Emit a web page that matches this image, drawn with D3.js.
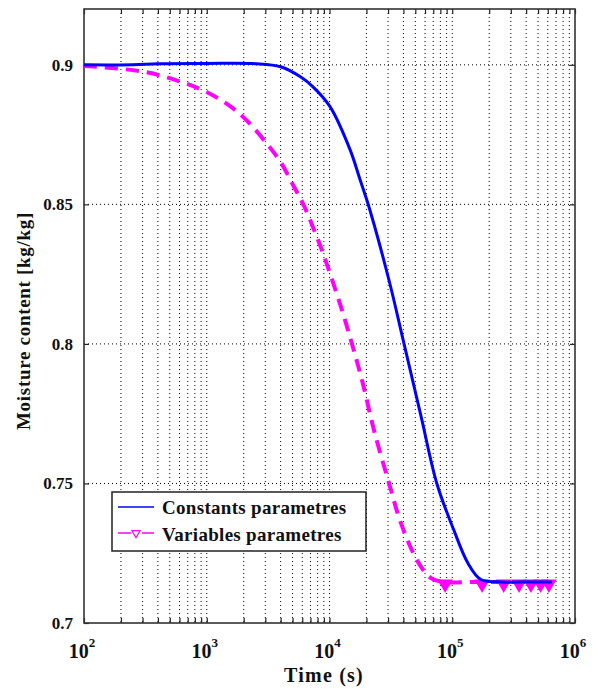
<!DOCTYPE html>
<html lang="en">
<head>
    <meta charset="UTF-8">
    <title>Moisture content vs time</title>
    <script src="https://cdn.jsdelivr.net/npm/d3@7/dist/d3.min.js"></script>
    <style>
        body { margin: 0; background: #fff; }
        svg text { font-family: "Liberation Serif", "Times New Roman", serif; font-weight: bold; fill: #111; }
        .grid line { stroke: #000; stroke-width: 1; stroke-dasharray: 1,3; }
    </style>
</head>
<body>
<script>
    // data
    const constTime = [100, 250, 400, 1000, 2500, 4000, 5800, 7340, 10100, 14700, 17700, 20600,
        30500, 40500, 55600, 75100, 103000, 134000, 171000, 250000, 400000, 650000];
    const constMoisture = [0.9, 0.9, 0.9004, 0.9005, 0.9004, 0.8993, 0.8957, 0.8921, 0.8850, 0.8696,
        0.8590, 0.8502, 0.8229, 0.8000, 0.7742, 0.7498, 0.7333, 0.7215, 0.7156, 0.7147, 0.7147, 0.7147];

    const varTime = [100, 308, 617, 1025, 1580, 2170, 3160, 4030, 5140, 6200, 8060, 9020, 12400,
        15500, 18700, 23000, 30500, 38200, 52600, 67100, 85700, 150000, 300000, 650000];
    const varMoisture = [0.8996, 0.8975, 0.8939, 0.8900, 0.8849, 0.8796, 0.8712, 0.8649, 0.8563,
        0.8495, 0.8373, 0.8315, 0.8133, 0.7989, 0.7858, 0.7692, 0.7502, 0.7358, 0.7219, 0.7161,
        0.7147, 0.7147, 0.7147, 0.7147];

    const markerTime = [87500, 175000, 262500, 350000, 437500, 525000, 612500];
    const markerMoisture = [0.7147, 0.7147, 0.7147, 0.7147, 0.7147, 0.7147, 0.7147];

    const yTicks = [0.7, 0.75, 0.8, 0.85, 0.9];
    const xMajor = [1e2, 1e3, 1e4, 1e5, 1e6];
    const seriesNames = ['Constants parametres', 'Variables parametres'];

    const width = 594, height = 690;
    const margin = {left: 84, right: 19, top: 9, bottom: 67};

    const svg = d3.select('body').append('svg')
        .attr('width', width)
        .attr('height', height);

    const x = d3.scaleLog().domain([1e2, 1e6]).range([margin.left, width - margin.right]);
    const y = d3.scaleLinear().domain([0.7, 0.92]).range([height - margin.bottom, margin.top]);

    // minor + major positions for log grid
    let xAll = [];
    for (let d = 2; d < 6; d++) {
        for (let k = 1; k < 10; k++) xAll.push(k * Math.pow(10, d));
    }
    xAll.push(1e6);

    // grid
    const grid = svg.append('g').attr('class', 'grid');
    grid.selectAll('.gx').data(xAll.filter(v => v > 1e2 && v < 1e6)).enter().append('line')
        .attr('x1', d => x(d)).attr('x2', d => x(d))
        .attr('y1', y.range()[1]).attr('y2', y.range()[0]);
    grid.selectAll('.gy').data(yTicks.filter(v => v > 0.7)).enter().append('line')
        .attr('x1', x.range()[0]).attr('x2', x.range()[1])
        .attr('y1', d => y(d)).attr('y2', d => y(d));

    // axes with inward ticks, labels drawn separately
    const tick = 5;
    svg.append('g').attr('transform', `translate(0,${y.range()[0]})`)
        .call(d3.axisBottom(x).tickValues(xAll).tickSize(-tick).tickFormat(''));
    svg.append('g').attr('transform', `translate(0,${y.range()[1]})`)
        .call(d3.axisTop(x).tickValues(xAll).tickSize(-tick).tickFormat(''));
    svg.append('g').attr('transform', `translate(${x.range()[0]},0)`)
        .call(d3.axisLeft(y).tickValues(yTicks).tickSize(-tick).tickFormat(''));
    svg.append('g').attr('transform', `translate(${x.range()[1]},0)`)
        .call(d3.axisRight(y).tickValues(yTicks).tickSize(-tick).tickFormat(''));
    svg.selectAll('.domain').remove();
    svg.selectAll('.tick line').attr('stroke', '#222').attr('stroke-width', 1.2);

    // frame
    svg.append('rect')
        .attr('x', x.range()[0]).attr('y', y.range()[1])
        .attr('width', x.range()[1] - x.range()[0])
        .attr('height', y.range()[0] - y.range()[1])
        .attr('fill', 'none').attr('stroke', '#333').attr('stroke-width', 1.6);

    // tick labels
    svg.selectAll('.ylab').data(yTicks).enter().append('text')
        .attr('x', x.range()[0] - 11)
        .attr('y', d => y(d) + 6)
        .attr('text-anchor', 'end')
        .attr('font-size', '17px')
        .text(d => d3.format('~g')(d));

    const xl = svg.selectAll('.xlab').data(xMajor).enter().append('text')
        .attr('x', d => x(d) - 2)
        .attr('y', y.range()[0] + 35)
        .attr('text-anchor', 'middle')
        .attr('font-size', '20px');
    xl.append('tspan').text('10');
    xl.append('tspan').attr('dy', -11).attr('font-size', '13px').text(d => Math.round(Math.log10(d)));

    // axis titles
    svg.append('text')
        .attr('x', 324)
        .attr('y', 682)
        .attr('text-anchor', 'middle')
        .attr('font-size', '20px')
        .attr('letter-spacing', '1.2px')
        .text('Time (s)');
    svg.append('text')
        .attr('transform', 'translate(30,321) rotate(-90)')
        .attr('text-anchor', 'middle')
        .attr('font-size', '19px')
        .attr('letter-spacing', '0.7px')
        .text('Moisture content [kg/kg]');

    // series
    const line = d3.line()
        .x(d => x(d[0]))
        .y(d => y(d[1]))
        .curve(d3.curveCatmullRom.alpha(0.5));

    svg.append('path')
        .datum(varTime.map((t, i) => [t, varMoisture[i]]))
        .attr('d', line)
        .attr('fill', 'none')
        .attr('stroke', '#ff00ff')
        .attr('stroke-width', 4)
        .attr('stroke-dasharray', '13,8');

    const tri = d3.symbol().type(d3.symbolTriangle).size(55);
    svg.selectAll('.mk').data(markerTime.map((t, i) => [t, markerMoisture[i]])).enter().append('path')
        .attr('d', tri)
        .attr('transform', d => `translate(${x(d[0])},${y(d[1]) + 2}) rotate(180)`)
        .attr('fill', '#ff00ff')
        .attr('stroke', '#ff00ff')
        .attr('stroke-width', 2.5);

    svg.append('path')
        .datum(constTime.map((t, i) => [t, constMoisture[i]]))
        .attr('d', line)
        .attr('fill', 'none')
        .attr('stroke', '#0000ff')
        .attr('stroke-width', 3);

    // legend
    const lg = svg.append('g').attr('transform', 'translate(112,492)');
    lg.append('rect').attr('width', 254).attr('height', 59)
        .attr('fill', '#fff').attr('stroke', '#222').attr('stroke-width', 1.5);
    lg.append('line').attr('x1', 6).attr('x2', 42).attr('y1', 15).attr('y2', 15)
        .attr('stroke', '#0000ff').attr('stroke-width', 1.5);
    lg.append('line').attr('x1', 6).attr('x2', 19).attr('y1', 41).attr('y2', 41)
        .attr('stroke', '#ff00ff').attr('stroke-width', 1.5);
    lg.append('line').attr('x1', 30).attr('x2', 42).attr('y1', 41).attr('y2', 41)
        .attr('stroke', '#ff00ff').attr('stroke-width', 1.5);
    lg.append('path').attr('d', d3.symbol().type(d3.symbolTriangle).size(30))
        .attr('transform', 'translate(24,41) rotate(180)')
        .attr('fill', '#fff').attr('stroke', '#ff00ff').attr('stroke-width', 1.2);
    lg.selectAll('.lt').data(seriesNames).enter().append('text')
        .attr('x', 50)
        .attr('y', (d, i) => 22 + i * 27)
        .attr('font-size', '19px')
        .attr('letter-spacing', '0.3px')
        .text(d => d);
</script>
</body>
</html>
